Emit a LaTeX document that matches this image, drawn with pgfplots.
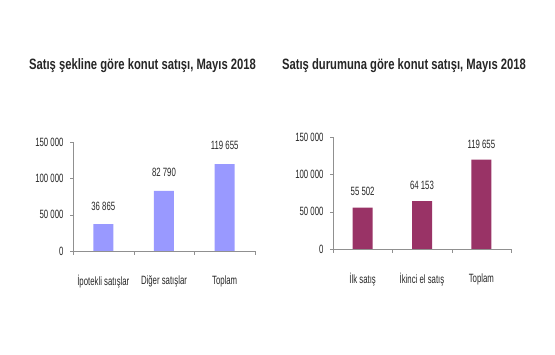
\documentclass[border=0pt]{standalone}
\usepackage{fontspec}
\setmainfont{Liberation Sans}
\newfontfamily\tfont{Liberation Sans}[FakeStretch=0.75]
\newfontfamily\lfont{Liberation Sans}[FakeStretch=0.65]
\usepackage{pgfplots}
\pgfplotsset{compat=1.18}
\definecolor{barA}{HTML}{9999FF}
\definecolor{barB}{HTML}{993366}
\definecolor{axgray}{HTML}{909090}
\definecolor{txt}{HTML}{262626}
\pgfplotsset{
  mystyle/.style={
    scale only axis,
    anchor=south west,
    xmin=-0.5, xmax=2.5, ymin=0, ymax=150000,
    scaled y ticks=false,
    axis x line=bottom, axis y line=left,
    axis line style={axgray, -},
    ytick={0,50000,100000,150000},
    yticklabels={0,50 000,100 000,150 000},
    xtick={0,1,2},
    x tick style={draw=none},
    y tick style={axgray},
    tick align=outside,
    major tick length=3pt,
    extra x ticks={-0.5,0.5,1.5,2.5},
    extra x tick labels={},
    extra x tick style={x tick style={draw=axgray}, major tick length=4pt},
    tick label style={font=\lfont\fontsize{12}{13}\selectfont, text=txt},
    yticklabel style={xshift=-3pt},
    xticklabel style={yshift=-18pt},
    ybar, bar width=20pt,
    point meta=explicit symbolic,
    nodes near coords,
    every node near coord/.append style={font=\lfont\fontsize{12}{13}\selectfont, text=txt},
  }
}
\begin{document}
\begin{tikzpicture}
\useasboundingbox (0pt,0pt) rectangle (555pt,355pt);
\node[font=\tfont\fontsize{15}{17}\selectfont\bfseries, text=txt] at (142.5pt,289pt) {Satış şekline göre konut satışı, Mayıs 2018};
\node[font=\tfont\fontsize{15}{17}\selectfont\bfseries, text=txt] at (404pt,289pt) {Satış durumuna göre konut satışı, Mayıs 2018};
\begin{axis}[mystyle, at={(73pt,104pt)}, width=182pt, height=109pt,
  xticklabels={İpotekli satışlar,Diğer satışlar,Toplam},
  every node near coord/.append style={yshift=10.5pt}]
\addplot[fill=barA, draw=none] coordinates {(0,36865) [36 865] (1,82790) [82 790] (2,119655) [119 655]};
\end{axis}
\begin{axis}[mystyle, at={(333pt,106pt)}, width=178pt, height=112pt,
  xticklabels={İlk satış,İkinci el satış,Toplam},
  every node near coord/.append style={yshift=8pt}]
\addplot[fill=barB, draw=none] coordinates {(0,55502) [55 502] (1,64153) [64 153] (2,119655) [119 655]};
\end{axis}
\end{tikzpicture}
\end{document}
